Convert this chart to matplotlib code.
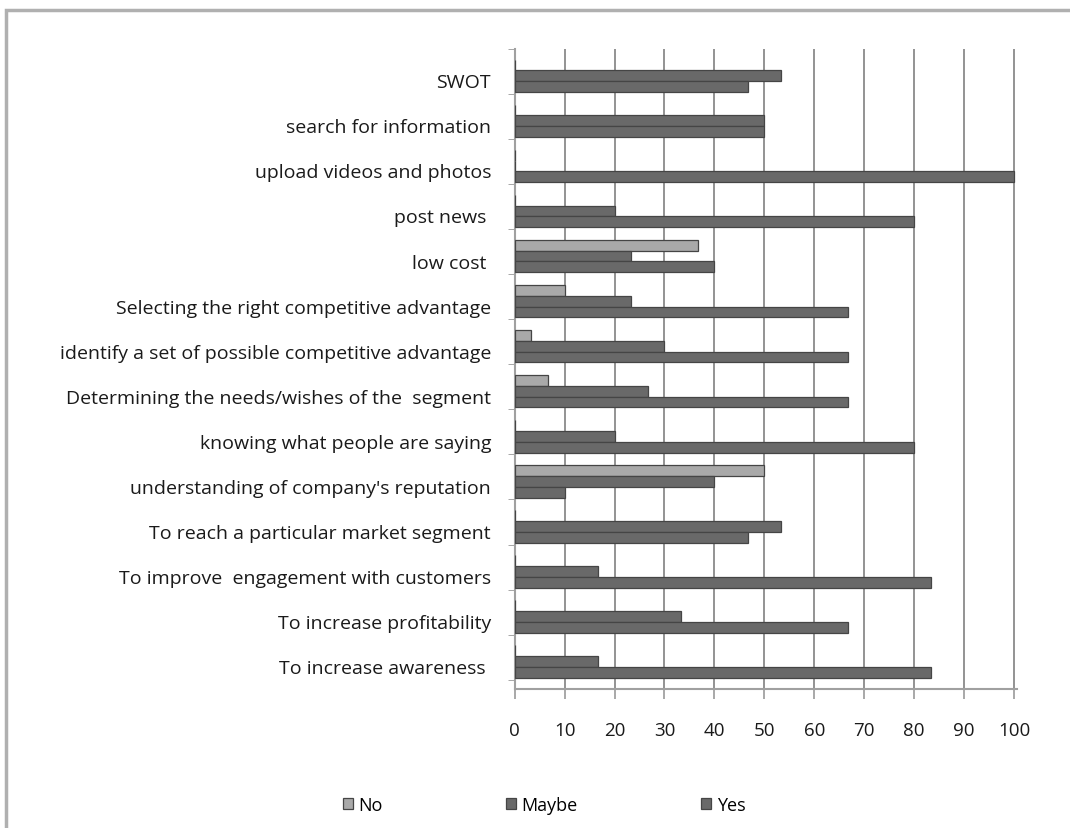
import numpy as np
import matplotlib.pyplot as plt
from matplotlib.patches import Rectangle

# survey answers, percent of respondents
categories = [
    "SWOT",
    "search for information",
    "upload videos and photos",
    "post news ",
    "low cost ",
    "Selecting the right competitive advantage",
    "identify a set of possible competitive advantage",
    "Determining the needs/wishes of the  segment",
    "knowing what people are saying",
    "understanding of company's reputation",
    "To reach a particular market segment",
    "To improve  engagement with customers",
    "To increase profitability",
    "To increase awareness ",
]
no_vals = [0, 0, 0, 0, 36.7, 10, 3.3, 6.7, 0, 50, 0, 0, 0, 0]
maybe_vals = [53.3, 50, 0, 20, 23.3, 23.3, 30, 26.7, 20, 40, 53.3, 16.7, 33.3, 16.7]
yes_vals = [46.7, 50, 100, 80, 40, 66.7, 66.7, 66.7, 80, 10, 46.7, 83.3, 66.7, 83.3]
series_names = ["No", "Maybe", "Yes"]
xticks = list(range(0, 101, 10))

plt.rcParams['font.family'] = ['Open Sans', 'DejaVu Sans']

fig = plt.figure(figsize=(10.7, 8.29), dpi=100)
ax = fig.add_axes([0.481, 0.168, 0.469, 0.772])

y = np.arange(len(categories))
h = 0.24
colors = ['#a9a9a9', '#696969', '#696969']
for i, (vals, name) in enumerate(zip([no_vals, maybe_vals, yes_vals], series_names)):
    ax.barh(y + (i - 1) * h, vals, height=h, color=colors[i],
            edgecolor='#454545', linewidth=0.9, label=name, zorder=3)

ax.set_ylim(len(categories) - 0.4, -0.6)
ax.set_xlim(0, 100.5)
ax.set_xticks(xticks)
ax.set_yticks(y + 0.1)
ax.set_yticklabels(categories, fontsize=14, color='#1a1a1a')
ax.tick_params(axis='y', length=0, pad=17)
ax.tick_params(axis='x', labelsize=13.5, labelcolor='#1a1a1a', color='#999999',
               length=7, width=1.2, pad=16)
ax.set_yticks(np.arange(len(categories) + 1) - 0.6, minor=True)
ax.tick_params(axis='y', which='minor', length=5, color='#999999')

ax.grid(axis='x', color='#8a8a8a', linewidth=1.3, zorder=0)
for side in ['top', 'right']:
    ax.spines[side].set_visible(False)
for side in ['left', 'bottom']:
    ax.spines[side].set_color('#a0a0a0')
    ax.spines[side].set_linewidth(1.5)

fig.legend(loc='lower left', bbox_to_anchor=(0.305, -0.003), ncol=3, frameon=False,
           fontsize=13, handlelength=0.55, handleheight=0.55, handletextpad=0.3,
           columnspacing=6.85)

# outer chart frame
fig.patches.append(Rectangle((0.006, -0.01), 1.1, 0.997, transform=fig.transFigure,
                             fill=False, edgecolor='#b0b0b0', linewidth=2.5))

fig.savefig('out.png', dpi=100)
